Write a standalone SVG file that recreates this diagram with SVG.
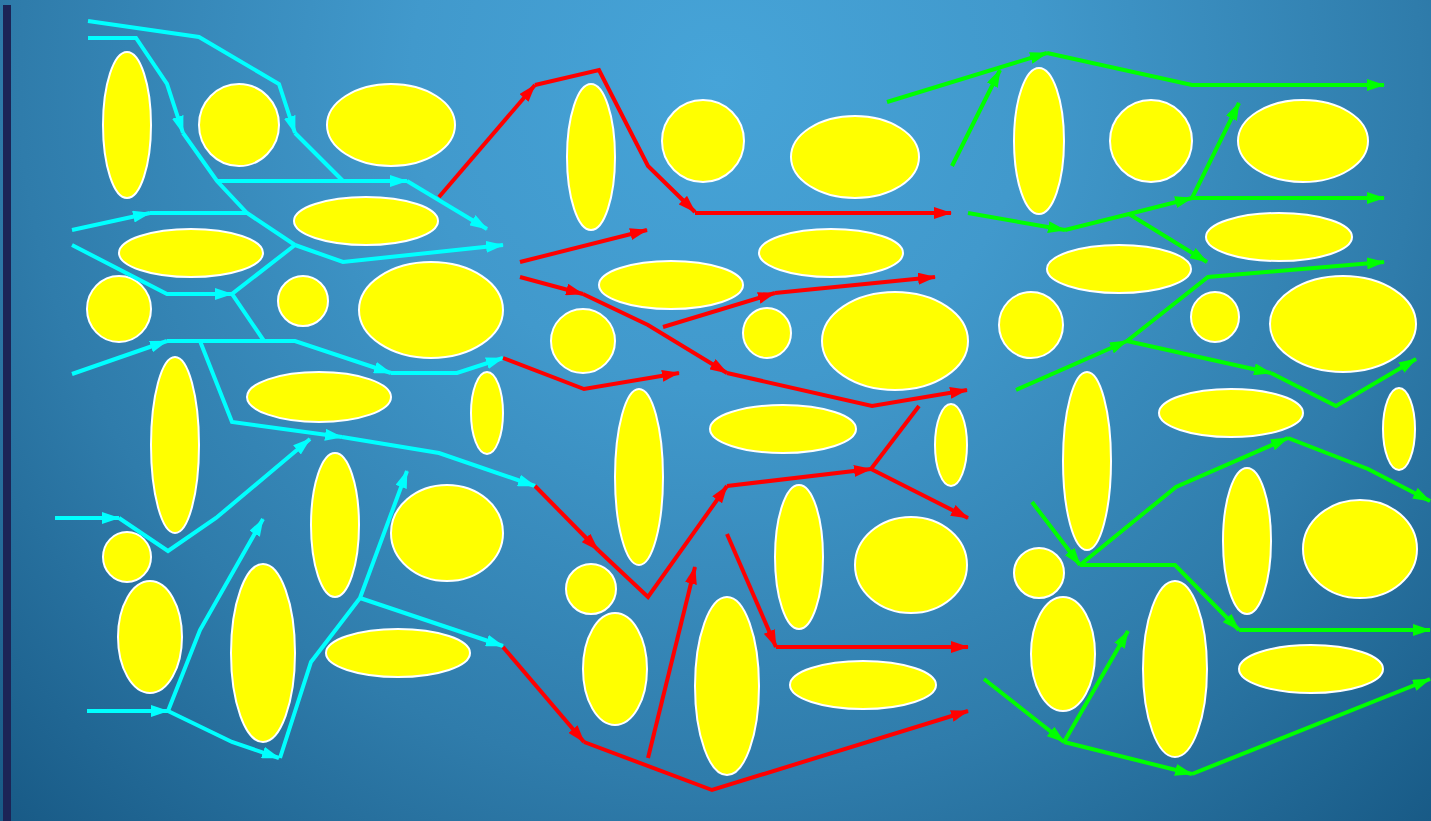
<svg xmlns="http://www.w3.org/2000/svg" width="1431" height="821" viewBox="0 0 1431 821">
<style>
.n ellipse{fill:#ffff00;stroke:#ffffff;stroke-width:2}
.c polyline{fill:none;stroke-width:4;stroke-linejoin:miter}
.cy{stroke:#00ffff}
.rd{stroke:#ff0000}
.gr{stroke:#00ff00}
</style>
<defs>
<radialGradient id="bg" gradientUnits="userSpaceOnUse" cx="720" cy="80" r="1030">
<stop offset="0" stop-color="#46a4d8"/>
<stop offset="0.3" stop-color="#4199cc"/>
<stop offset="0.68" stop-color="#2f7cab"/>
<stop offset="1" stop-color="#185a86"/>
</radialGradient>
<marker id="ac" viewBox="0 0 18 12" markerWidth="18" markerHeight="12" refX="17" refY="6" orient="auto" markerUnits="userSpaceOnUse"><path d="M0,0 L18,6 L0,12 z" fill="#00ffff"/></marker>
<marker id="ar" viewBox="0 0 18 12" markerWidth="18" markerHeight="12" refX="17" refY="6" orient="auto" markerUnits="userSpaceOnUse"><path d="M0,0 L18,6 L0,12 z" fill="#ff0000"/></marker>
<marker id="ag" viewBox="0 0 18 12" markerWidth="18" markerHeight="12" refX="17" refY="6" orient="auto" markerUnits="userSpaceOnUse"><path d="M0,0 L18,6 L0,12 z" fill="#00ff00"/></marker>
</defs>
<rect x="0" y="0" width="1431" height="821" fill="url(#bg)"/>
<rect x="3" y="5" width="8" height="816" fill="#1c2456"/>

<g class="n">
<g id="n1"><ellipse cx="127" cy="125" rx="24" ry="73"/></g>
<g id="n2"><ellipse cx="239" cy="125" rx="40" ry="41"/></g>
<g id="n3"><ellipse cx="391" cy="125" rx="64" ry="41"/></g>
<g id="n4"><ellipse cx="366" cy="221" rx="72" ry="24"/></g>
<g id="n5"><ellipse cx="191" cy="253" rx="72" ry="24"/></g>
<g id="n6"><ellipse cx="119" cy="309" rx="32" ry="33"/></g>
<g id="n7"><ellipse cx="303" cy="301" rx="25" ry="25"/></g>
<g id="n8"><ellipse cx="431" cy="310" rx="72" ry="48"/></g>
<g id="n9"><ellipse cx="175" cy="445" rx="24" ry="88"/></g>
<g id="n10"><ellipse cx="319" cy="397" rx="72" ry="25"/></g>
<g id="n11"><ellipse cx="487" cy="413" rx="16" ry="41"/></g>
<g id="n12"><ellipse cx="335" cy="525" rx="24" ry="72"/></g>
<g id="n13"><ellipse cx="447" cy="533" rx="56" ry="48"/></g>
<g id="n14"><ellipse cx="127" cy="557" rx="24" ry="25"/></g>
<g id="n15"><ellipse cx="150" cy="637" rx="32" ry="56"/></g>
<g id="n16"><ellipse cx="263" cy="653" rx="32" ry="89"/></g>
<g id="n17"><ellipse cx="398" cy="653" rx="72" ry="24"/></g>
<g id="n18"><ellipse cx="591" cy="157" rx="24" ry="73"/></g>
<g id="n19"><ellipse cx="703" cy="141" rx="41" ry="41"/></g>
<g id="n20"><ellipse cx="855" cy="157" rx="64" ry="41"/></g>
<g id="n21"><ellipse cx="831" cy="253" rx="72" ry="24"/></g>
<g id="n22"><ellipse cx="671" cy="285" rx="72" ry="24"/></g>
<g id="n23"><ellipse cx="583" cy="341" rx="32" ry="32"/></g>
<g id="n24"><ellipse cx="767" cy="333" rx="24" ry="25"/></g>
<g id="n25"><ellipse cx="895" cy="341" rx="73" ry="49"/></g>
<g id="n26"><ellipse cx="639" cy="477" rx="24" ry="88"/></g>
<g id="n27"><ellipse cx="783" cy="429" rx="73" ry="24"/></g>
<g id="n28"><ellipse cx="951" cy="445" rx="16" ry="41"/></g>
<g id="n29"><ellipse cx="799" cy="557" rx="24" ry="72"/></g>
<g id="n30"><ellipse cx="911" cy="565" rx="56" ry="48"/></g>
<g id="n31"><ellipse cx="591" cy="589" rx="25" ry="25"/></g>
<g id="n32"><ellipse cx="615" cy="669" rx="32" ry="56"/></g>
<g id="n33"><ellipse cx="727" cy="686" rx="32" ry="89"/></g>
<g id="n34"><ellipse cx="863" cy="685" rx="73" ry="24"/></g>
<g id="n35"><ellipse cx="1039" cy="141" rx="25" ry="73"/></g>
<g id="n36"><ellipse cx="1151" cy="141" rx="41" ry="41"/></g>
<g id="n37"><ellipse cx="1303" cy="141" rx="65" ry="41"/></g>
<g id="n38"><ellipse cx="1279" cy="237" rx="73" ry="24"/></g>
<g id="n39"><ellipse cx="1119" cy="269" rx="72" ry="24"/></g>
<g id="n40"><ellipse cx="1031" cy="325" rx="32" ry="33"/></g>
<g id="n41"><ellipse cx="1215" cy="317" rx="24" ry="25"/></g>
<g id="n42"><ellipse cx="1343" cy="324" rx="73" ry="48"/></g>
<g id="n43"><ellipse cx="1087" cy="461" rx="24" ry="89"/></g>
<g id="n44"><ellipse cx="1231" cy="413" rx="72" ry="24"/></g>
<g id="n45"><ellipse cx="1399" cy="429" rx="16" ry="41"/></g>
<g id="n46"><ellipse cx="1247" cy="541" rx="24" ry="73"/></g>
<g id="n47"><ellipse cx="1360" cy="549" rx="57" ry="49"/></g>
<g id="n48"><ellipse cx="1039" cy="573" rx="25" ry="25"/></g>
<g id="n49"><ellipse cx="1063" cy="654" rx="32" ry="57"/></g>
<g id="n50"><ellipse cx="1175" cy="669" rx="32" ry="88"/></g>
<g id="n51"><ellipse cx="1311" cy="669" rx="72" ry="24"/></g>
</g>

<g id="connectors" class="c">
<polyline class="cy" points="88,21 199,37 279,84 295,133" marker-end="url(#ac)"/>
<polyline class="cy" points="295,133 343,181"/>
<polyline class="cy" points="88,38 136,38 167,84 183,133" marker-end="url(#ac)"/>
<polyline class="cy" points="183,133 217,181 247,213 295,245"/>
<polyline class="cy" points="217,181 407,181" marker-end="url(#ac)"/>
<polyline class="cy" points="407,181 487,229" marker-end="url(#ac)"/>
<polyline class="cy" points="72,230 150,213" marker-end="url(#ac)"/>
<polyline class="cy" points="150,213 247,213"/>
<polyline class="cy" points="72,245 167,294 232,294" marker-end="url(#ac)"/>
<polyline class="cy" points="295,245 343,262 503,245" marker-end="url(#ac)"/>
<polyline class="cy" points="295,245 232,294 264,341"/>
<polyline class="cy" points="72,374 167,341" marker-end="url(#ac)"/>
<polyline class="cy" points="167,341 295,341 391,373" marker-end="url(#ac)"/>
<polyline class="cy" points="391,373 457,373 503,358" marker-end="url(#ac)"/>
<polyline class="cy" points="200,341 232,422 342,437" marker-end="url(#ac)"/>
<polyline class="cy" points="342,437 439,453 535,486" marker-end="url(#ac)"/>
<polyline class="cy" points="55,518 119,518" marker-end="url(#ac)"/>
<polyline class="cy" points="119,518 168,551 216,518 310,439" marker-end="url(#ac)"/>
<polyline class="cy" points="87,711 168,711" marker-end="url(#ac)"/>
<polyline class="cy" points="168,711 200,630 263,519" marker-end="url(#ac)"/>
<polyline class="cy" points="168,711 232,742 279,758" marker-end="url(#ac)"/>
<polyline class="cy" points="280,758 311,662 360,598 407,471" marker-end="url(#ac)"/>
<polyline class="cy" points="360,598 503,646" marker-end="url(#ac)"/>

<polyline class="rd" points="439,197 535,85" marker-end="url(#ar)"/>
<polyline class="rd" points="535,85 599,70 648,166 695,212" marker-end="url(#ar)"/>
<polyline class="rd" points="695,213 951,213" marker-end="url(#ar)"/>
<polyline class="rd" points="520,262 647,230" marker-end="url(#ar)"/>
<polyline class="rd" points="520,277 583,294" marker-end="url(#ar)"/>
<polyline class="rd" points="583,294 648,325 727,373" marker-end="url(#ar)"/>
<polyline class="rd" points="727,373 872,406 967,390" marker-end="url(#ar)"/>
<polyline class="rd" points="663,327 775,293" marker-end="url(#ar)"/>
<polyline class="rd" points="775,293 935,277" marker-end="url(#ar)"/>
<polyline class="rd" points="503,358 584,389 679,373" marker-end="url(#ar)"/>
<polyline class="rd" points="535,486 598,550" marker-end="url(#ar)"/>
<polyline class="rd" points="598,550 648,597 727,486" marker-end="url(#ar)"/>
<polyline class="rd" points="727,486 871,469" marker-end="url(#ar)"/>
<polyline class="rd" points="871,469 919,406"/>
<polyline class="rd" points="871,469 968,518" marker-end="url(#ar)"/>
<polyline class="rd" points="727,534 776,647" marker-end="url(#ar)"/>
<polyline class="rd" points="776,647 968,647" marker-end="url(#ar)"/>
<polyline class="rd" points="503,647 584,742" marker-end="url(#ar)"/>
<polyline class="rd" points="584,742 712,790 968,711" marker-end="url(#ar)"/>
<polyline class="rd" points="648,758 695,567" marker-end="url(#ar)"/>

<polyline class="gr" points="887,102 1047,53" marker-end="url(#ag)"/>
<polyline class="gr" points="1047,53 1192,85 1384,85" marker-end="url(#ag)"/>
<polyline class="gr" points="952,166 1000,70" marker-end="url(#ag)"/>
<polyline class="gr" points="968,213 1065,230" marker-end="url(#ag)"/>
<polyline class="gr" points="1065,230 1129,214 1192,198" marker-end="url(#ag)"/>
<polyline class="gr" points="1192,198 1384,198" marker-end="url(#ag)"/>
<polyline class="gr" points="1192,198 1239,103" marker-end="url(#ag)"/>
<polyline class="gr" points="1129,214 1207,262" marker-end="url(#ag)"/>
<polyline class="gr" points="1016,390 1127,341" marker-end="url(#ag)"/>
<polyline class="gr" points="1127,341 1208,277 1384,262" marker-end="url(#ag)"/>
<polyline class="gr" points="1127,341 1271,373" marker-end="url(#ag)"/>
<polyline class="gr" points="1271,373 1336,406 1416,359" marker-end="url(#ag)"/>
<polyline class="gr" points="1032,502 1080,565" marker-end="url(#ag)"/>
<polyline class="gr" points="1080,565 1176,487 1288,438" marker-end="url(#ag)"/>
<polyline class="gr" points="1288,438 1368,469 1430,501" marker-end="url(#ag)"/>
<polyline class="gr" points="1080,565 1175,565 1239,630" marker-end="url(#ag)"/>
<polyline class="gr" points="1239,630 1430,630" marker-end="url(#ag)"/>
<polyline class="gr" points="984,679 1064,742" marker-end="url(#ag)"/>
<polyline class="gr" points="1064,742 1128,631" marker-end="url(#ag)"/>
<polyline class="gr" points="1064,742 1192,774" marker-end="url(#ag)"/>
<polyline class="gr" points="1192,774 1430,679" marker-end="url(#ag)"/>
</g>
</svg>
